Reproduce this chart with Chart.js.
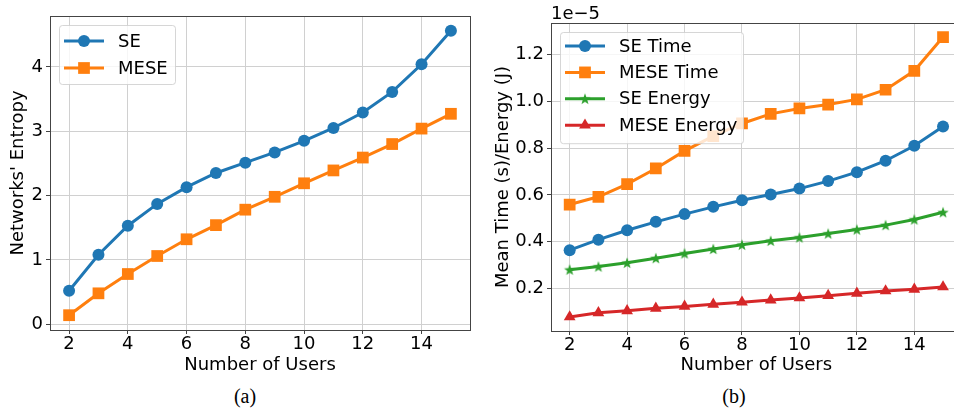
<!DOCTYPE html>
<html>
<head>
<meta charset="utf-8">
<script src="https://cdn.jsdelivr.net/npm/chart.js@4.4.0/dist/chart.umd.min.js"></script>
<style>
  body { margin: 0; width: 954px; height: 409px; overflow: hidden; background: #fff; position: relative; }
  canvas { position: absolute; top: 0; }
  .cap { position: absolute; font-family: "Liberation Serif", serif; font-size: 20px; color: #000; transform: translate(-50%, -50%); }
</style>
</head>
<body>
<canvas id="chartA" width="480" height="376" style="left:0"></canvas>
<canvas id="chartB" width="490" height="376" style="left:480px"></canvas>
<div class="cap" style="left:245px; top:396px">(a)</div>
<div class="cap" style="left:734px; top:396px">(b)</div>
<script>
// data
const users = [2, 3, 4, 5, 6, 7, 8, 9, 10, 11, 12, 13, 14, 15];
const seEntropy   = [0.52, 1.08, 1.53, 1.87, 2.13, 2.35, 2.51, 2.67, 2.85, 3.05, 3.29, 3.61, 4.04, 4.56];
const meseEntropy = [0.14, 0.48, 0.78, 1.06, 1.32, 1.54, 1.78, 1.98, 2.19, 2.39, 2.59, 2.80, 3.04, 3.27];
// panel (b) values in units of 1e-5
const seTime     = [0.364, 0.409, 0.449, 0.485, 0.518, 0.549, 0.577, 0.602, 0.627, 0.659, 0.697, 0.746, 0.810, 0.892];
const meseTime   = [0.559, 0.592, 0.646, 0.713, 0.788, 0.851, 0.905, 0.946, 0.969, 0.986, 1.008, 1.049, 1.130, 1.274];
const seEnergy   = [0.281, 0.294, 0.310, 0.330, 0.350, 0.369, 0.387, 0.404, 0.418, 0.435, 0.452, 0.471, 0.495, 0.526];
const meseEnergy = [0.079, 0.097, 0.105, 0.116, 0.124, 0.133, 0.142, 0.151, 0.160, 0.170, 0.180, 0.190, 0.197, 0.207];

const xTicks  = [2, 4, 6, 8, 10, 12, 14];
const yTicksA = [0, 1, 2, 3, 4];
const yTicksB = [0.2, 0.4, 0.6, 0.8, 1.0, 1.2];

const blue = "#1f77b4", orange = "#ff7f0e", green = "#2ca02c", red = "#d62728";
const FS = 18;

Chart.defaults.font.family = "DejaVu Sans";
Chart.defaults.font.size = FS;
Chart.defaults.color = "#000";

// filled star marker like matplotlib '*'
function starImage(color) {
  const c = document.createElement("canvas");
  c.width = 14; c.height = 14;
  const g = c.getContext("2d");
  g.beginPath();
  for (let i = 0; i < 10; i++) {
    const r = i % 2 ? 2.4 : 6;
    const a = -Math.PI / 2 + i * Math.PI / 5;
    g.lineTo(7 + r * Math.cos(a), 7.5 + r * Math.sin(a));
  }
  g.closePath();
  g.fillStyle = color;
  g.fill();
  return c;
}
const star = starImage(green);

function series(label, vals, color, style, radius) {
  return {
    label,
    data: vals.map((v, i) => ({ x: users[i], y: v })),
    borderColor: color,
    backgroundColor: color,
    borderWidth: 3,
    pointStyle: style,
    pointRadius: radius,
    pointBorderWidth: 0,
    pointBackgroundColor: color,
    tension: 0
  };
}

// matplotlib-like legend inside the axes, box spines and offset label
const mplDecor = {
  id: "mplDecor",
  afterDatasetsDraw(chart, args, opts) {
    const ctx = chart.ctx, a = chart.chartArea;
    ctx.save();
    ctx.strokeStyle = "#444";
    ctx.lineWidth = 1;
    ctx.strokeRect(Math.round(a.left) + 0.5, Math.round(a.top) + 0.5, Math.round(a.right - a.left), Math.round(a.bottom - a.top));

    if (opts.offsetText) {
      ctx.fillStyle = "#000";
      ctx.font = FS + "px 'DejaVu Sans'";
      ctx.textBaseline = "alphabetic";
      ctx.fillText(opts.offsetText, a.left, a.top - 4);
    }

    const bx = a.left + 9, by = a.top + 9;
    const rows = chart.data.datasets.length;
    const bh = 16 + (rows - 1) * opts.rowGap + 16;
    ctx.beginPath();
    ctx.roundRect(bx + 0.5, by + 0.5, opts.width, bh, 3);
    ctx.fillStyle = "rgba(255,255,255,0.8)";
    ctx.fill();
    ctx.strokeStyle = "rgba(204,204,204,0.8)";
    ctx.stroke();

    chart.data.datasets.forEach((ds, i) => {
      const y = by + opts.firstRow + i * opts.rowGap;
      ctx.strokeStyle = ds.borderColor;
      ctx.lineWidth = 3;
      ctx.beginPath();
      ctx.moveTo(a.left + 14, y);
      ctx.lineTo(a.left + 54, y);
      ctx.stroke();
      ctx.fillStyle = ds.backgroundColor;
      Chart.helpers.drawPoint(ctx, { pointStyle: ds.pointStyle, radius: ds.pointRadius, borderWidth: 0, rotation: 0 }, a.left + 34, y);
      ctx.fillStyle = "#000";
      ctx.font = FS + "px 'DejaVu Sans'";
      ctx.textBaseline = "middle";
      ctx.fillText(ds.label, a.left + 68, y + 1);
    });
    ctx.restore();
  }
};

function axisOpts(min, max, ticks, fmt, title, size, isX) {
  return {
    type: "linear",
    min, max,
    afterBuildTicks(scale) { scale.ticks = ticks.map(v => ({ value: v })); },
    afterFit(scale) { if (isX) scale.height = size; else scale.width = size; },
    ticks: { callback: fmt, padding: isX ? 0 : 3, color: "#000", font: { size: FS } },
    grid: { color: "#d0d0d0", lineWidth: 1, drawTicks: true, tickLength: 4, tickColor: "#444" },
    border: { display: false },
    title: { display: true, text: title, padding: 0, color: "#000", font: { size: FS } }
  };
}

new Chart("chartA", {
  type: "line",
  data: {
    datasets: [
      series("SE", seEntropy, blue, "circle", 6),
      series("MESE", meseEntropy, orange, "rect", 8.3)
    ]
  },
  options: {
    responsive: false,
    animation: false,
    layout: { padding: { left: 7.2, top: 16, right: 10, bottom: 0 } },
    scales: {
      x: axisOpts(1.35, 15.65, xTicks, v => v, "Number of Users", 46, true),
      y: axisOpts(-0.09, 4.79, yTicksA, v => v, "Networks' Entropy", 42.8, false)
    },
    plugins: {
      legend: { display: false },
      tooltip: { enabled: false },
      mplDecor: { width: 116, rowGap: 27, firstRow: 16 }
    }
  },
  plugins: [mplDecor]
});

new Chart("chartB", {
  type: "line",
  data: {
    datasets: [
      series("SE Time", seTime, blue, "circle", 6),
      series("MESE Time", meseTime, orange, "rect", 8.3),
      series("SE Energy", seEnergy, green, star, 6),
      series("MESE Energy", meseEnergy, red, "triangle", 6.8)
    ]
  },
  options: {
    responsive: false,
    animation: false,
    layout: { padding: { left: 12.2, top: 23, right: 5, bottom: 0 } },
    scales: {
      x: axisOpts(1.35, 15.65, xTicks, v => v, "Number of Users", 45, true),
      y: axisOpts(0.019, 1.334, yTicksB, v => v.toFixed(1), "Mean Time (s)/Energy (J)", 58.8, false)
    },
    plugins: {
      legend: { display: false },
      tooltip: { enabled: false },
      mplDecor: { width: 183, rowGap: 26.4, firstRow: 14, offsetText: "1e\u22125" }
    }
  },
  plugins: [mplDecor]
});
</script>
</body>
</html>
